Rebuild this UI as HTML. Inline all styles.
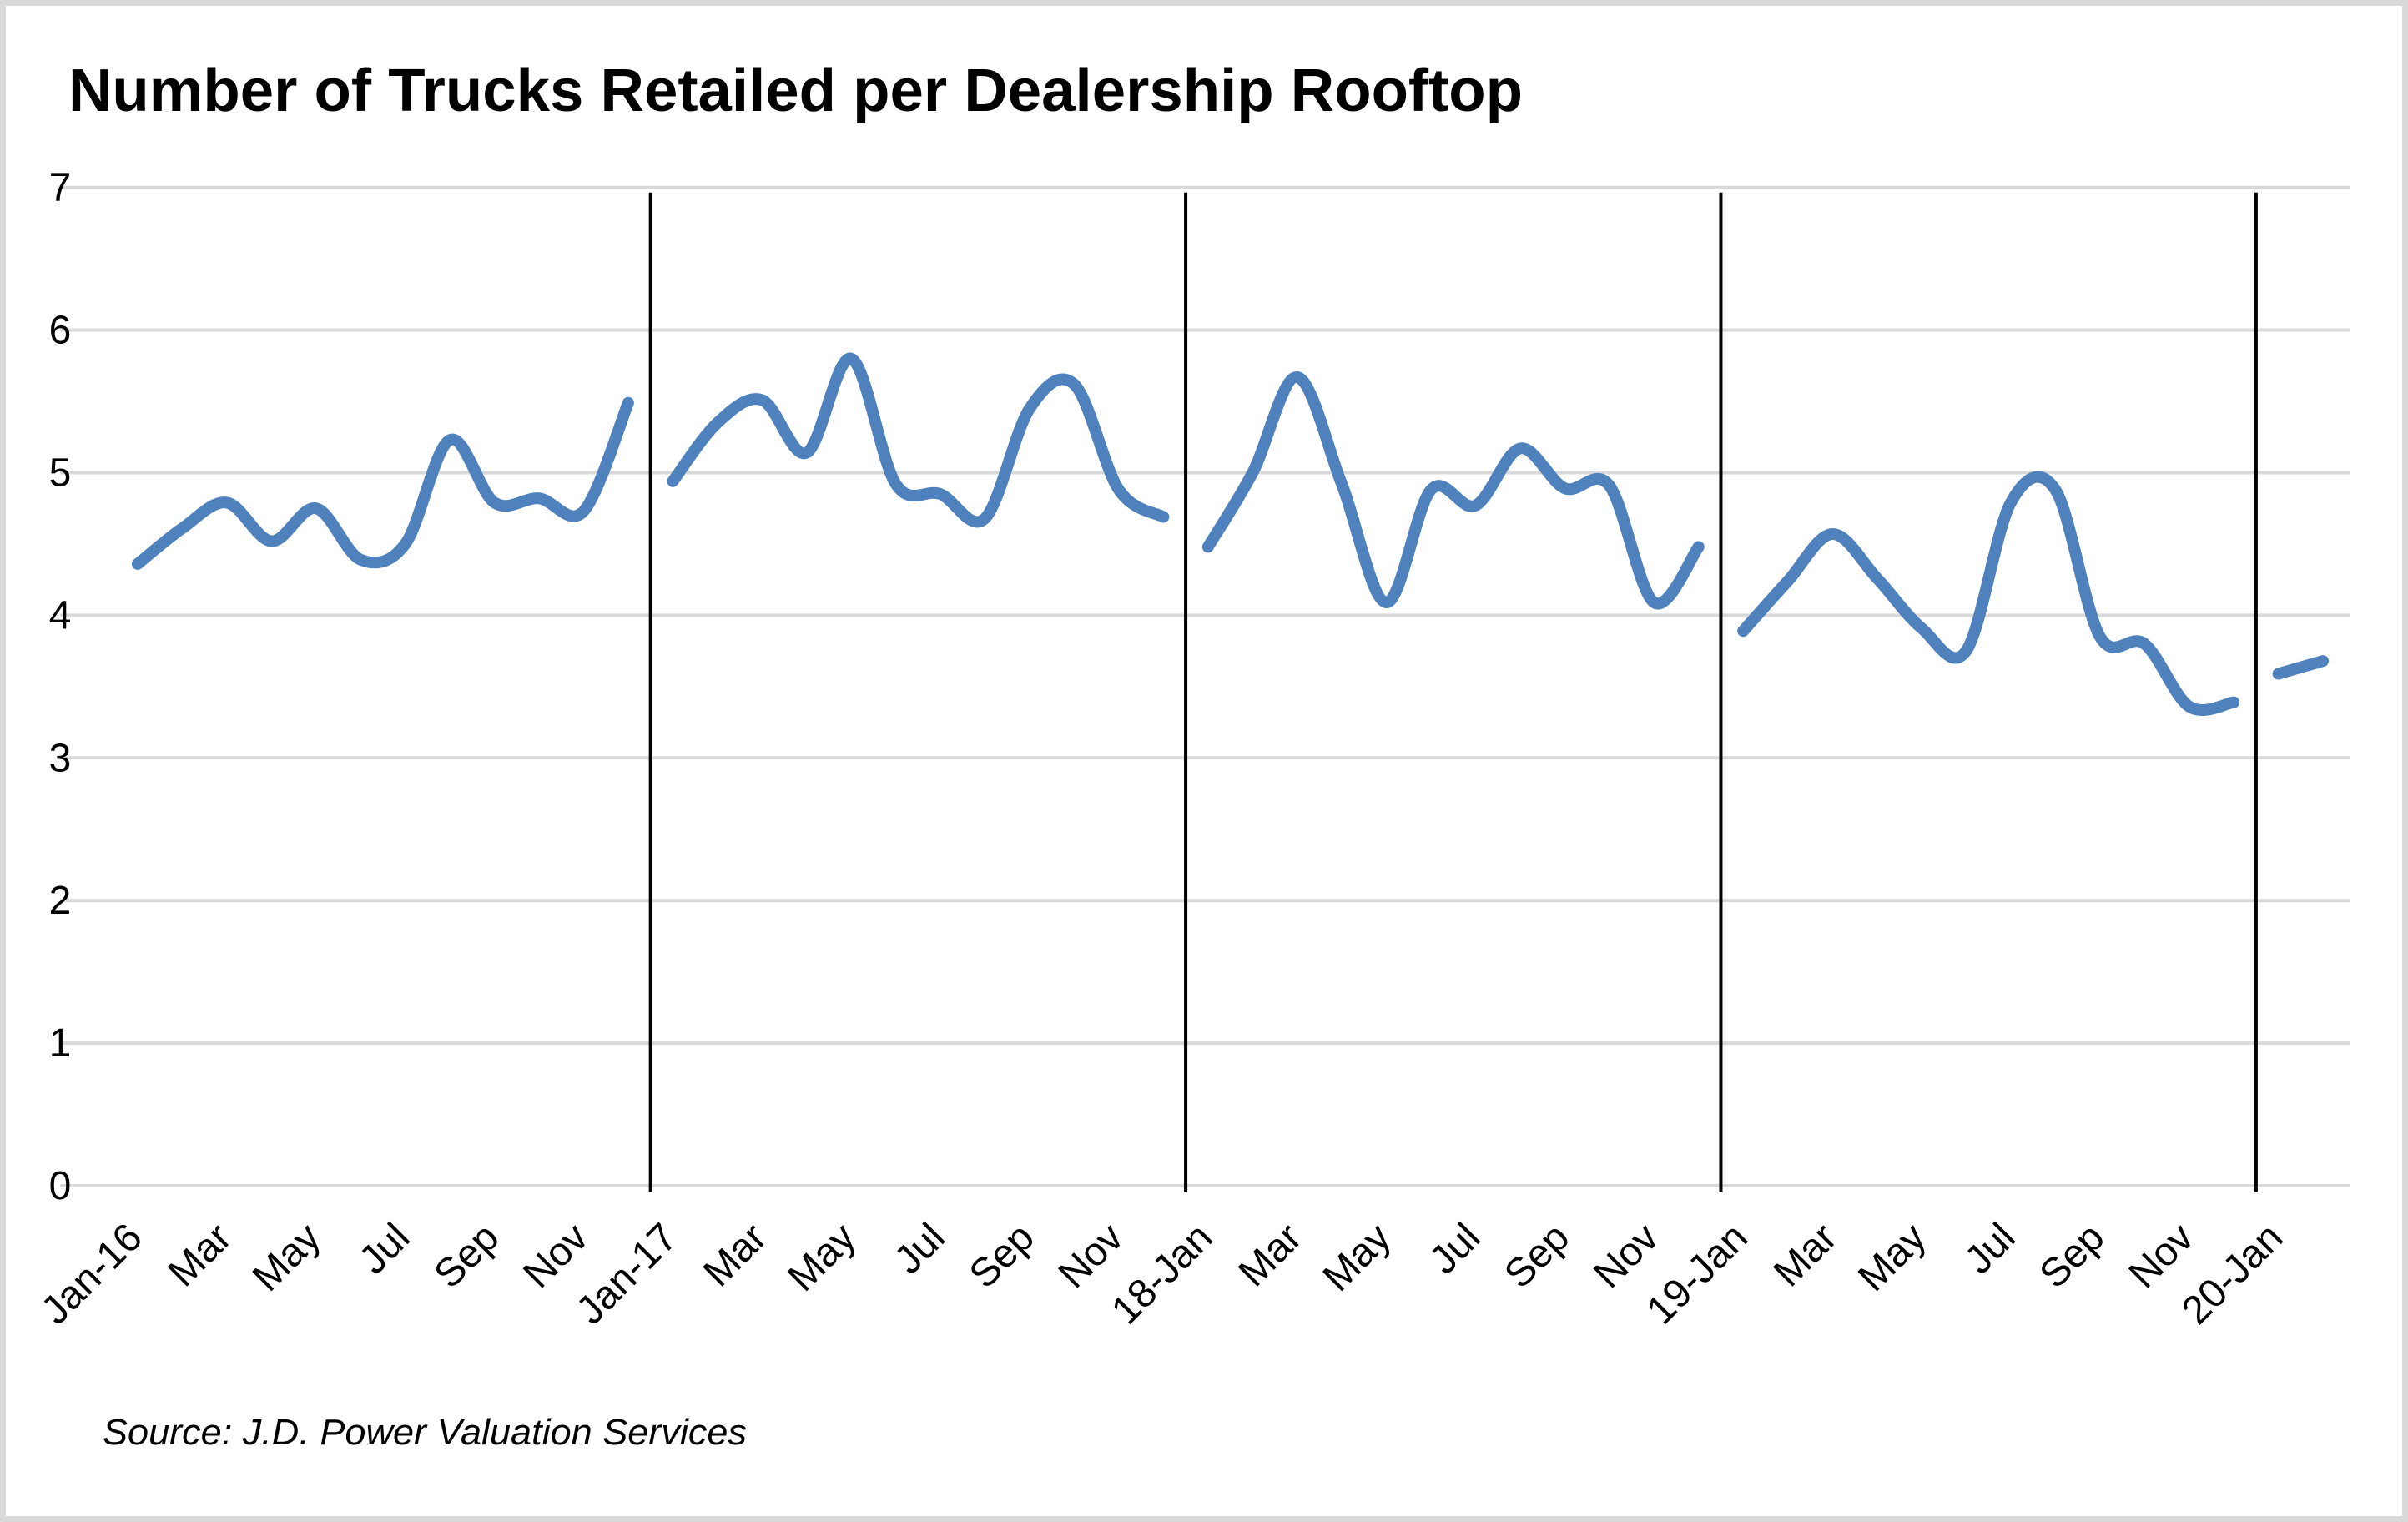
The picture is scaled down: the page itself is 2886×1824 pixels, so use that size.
<!DOCTYPE html>
<html><head><meta charset="utf-8">
<style>
html,body{margin:0;padding:0;background:#fff;}
svg{display:block;}
text{font-family:"Liberation Sans",sans-serif;fill:#000;}
</style></head>
<body>
<svg id="chart" width="2886" height="1824" viewBox="0 0 2886 1824" xmlns="http://www.w3.org/2000/svg">
<rect x="3.5" y="3.5" width="2879" height="1817" fill="#fff" stroke="#d9d9d9" stroke-width="7"/>
<text x="82" y="133" font-size="72" font-weight="bold" textLength="1743" lengthAdjust="spacingAndGlyphs">Number of Trucks Retailed per Dealership Rooftop</text>
<g id="grid"></g><g id="ylabels"></g><g id="seps"></g><g id="series"></g><g id="xlabels"></g>
<text x="123" y="1731" font-size="44" font-style="italic" textLength="772" lengthAdjust="spacingAndGlyphs">Source: J.D. Power Valuation Services</text>
</svg>
<script>
const months=["Jan-16","Feb","Mar","Apr","May","Jun","Jul","Aug","Sep","Oct","Nov","Dec",
"Jan-17","Feb","Mar","Apr","May","Jun","Jul","Aug","Sep","Oct","Nov","Dec",
"18-Jan","Feb","Mar","Apr","May","Jun","Jul","Aug","Sep","Oct","Nov","Dec",
"19-Jan","Feb","Mar","Apr","May","Jun","Jul","Aug","Sep","Oct","Nov","Dec",
"20-Jan","Feb"];
const y2016=[4.36,4.61,4.79,4.52,4.75,4.39,4.5,5.23,4.79,4.82,4.73,5.49];
const y2017=[4.94,5.35,5.51,5.14,5.80,4.92,4.85,4.68,5.45,5.62,4.88,4.69];
const y2018=[4.48,5.00,5.67,4.92,4.09,4.88,4.77,5.17,4.89,4.91,4.09,4.48];
const y2019=[3.89,4.24,4.57,4.26,3.91,3.75,4.79,4.88,3.85,3.80,3.36,3.39];
const y2020=[3.59,3.68];
const yTicks=[0,1,2,3,4,5,6,7];
const separators=[11.5,23.5,35.5,47.5];

const NS="http://www.w3.org/2000/svg";
const x0=165, dx=53.45, yBase=1421, yUnit=170.9, plotL=72, plotR=2816;
const X=i=>x0+i*dx;
const Y=v=>yBase-v*yUnit;
function mk(tag,attrs,parent,txt){const e=document.createElementNS(NS,tag);for(const k in attrs)e.setAttribute(k,attrs[k]);if(txt!==undefined)e.textContent=txt;parent.appendChild(e);return e;}

const grid=document.getElementById('grid'), yl=document.getElementById('ylabels');
yTicks.forEach(t=>{
  const l=mk('line',{x1:plotL,x2:plotR,y1:Y(t),y2:Y(t),stroke:'#d9d9d9','stroke-width':4},grid);
  
  
  const tx=mk('text',{x:72,y:Y(t)+16,'font-size':48,'text-anchor':'middle'},yl,String(t));
  
  
});
const seps=document.getElementById('seps');
separators.forEach((s,k)=>{
  const l=mk('line',{x1:X(s),x2:X(s),y1:Y(7)+6,y2:Y(0)+8,stroke:'#000','stroke-width':4},seps);
  
  
});
function smooth(pts){
  let d='M'+pts[0][0]+','+pts[0][1];
  for(let i=0;i<pts.length-1;i++){
    const p0=pts[Math.max(0,i-1)],p1=pts[i],p2=pts[i+1],p3=pts[Math.min(pts.length-1,i+2)];
    const c1=[p1[0]+(p2[0]-p0[0])/6,p1[1]+(p2[1]-p0[1])/6];
    const c2=[p2[0]-(p3[0]-p1[0])/6,p2[1]-(p3[1]-p1[1])/6];
    d+=' C'+c1[0]+','+c1[1]+' '+c2[0]+','+c2[1]+' '+p2[0]+','+p2[1];
  }
  return d;
}
const ser=document.getElementById('series');
[[y2016,0,'2016'],[y2017,12,'2017'],[y2018,24,'2018'],[y2019,36,'2019'],[y2020,48,'2020']].forEach(([arr,off,nm])=>{
  const pts=arr.map((v,i)=>[X(off+i),Y(v)]);
  const p=mk('path',{d:smooth(pts),fill:'none',stroke:'#4f81bd','stroke-width':14,'stroke-linecap':'round','stroke-linejoin':'round'},ser);
  
  
});
const xl=document.getElementById('xlabels');
months.forEach((m,i)=>{
  if(i%2!==0)return;
  const x=X(i)+8,y=1486;
  const t=mk('text',{x:x,y:y,'font-size':48,'text-anchor':'end',transform:'rotate(-45 '+x+' '+y+')'},xl,m);
  
  
});
</script>
</body></html>
